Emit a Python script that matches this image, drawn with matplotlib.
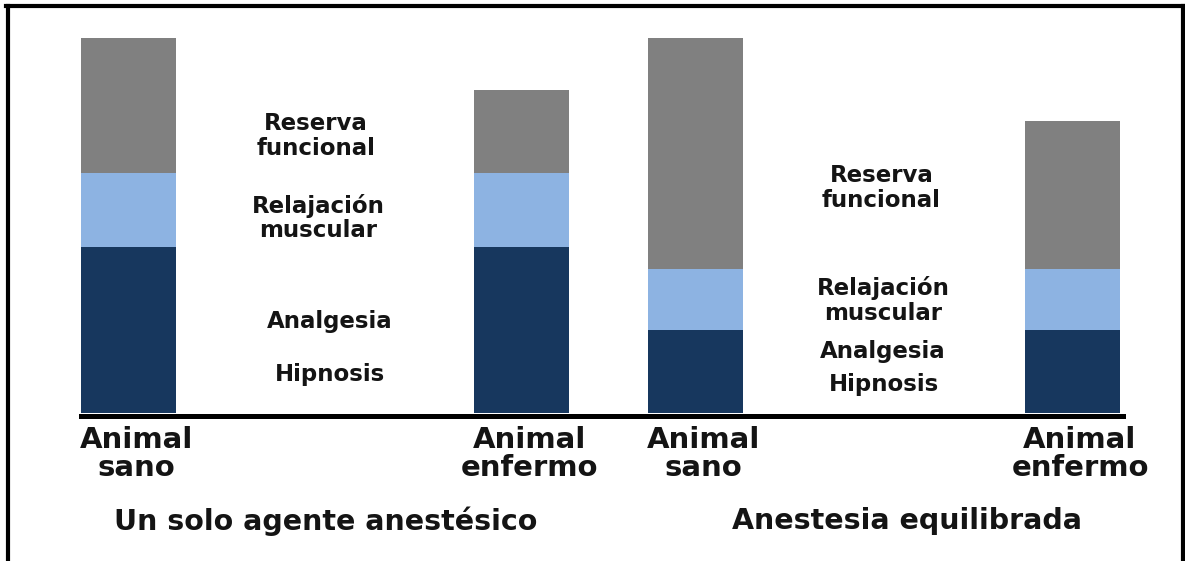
import matplotlib
matplotlib.use('Agg')
import matplotlib.pyplot as plt
from matplotlib.lines import Line2D

# datos (altura relativa, 100 = barra más alta)
categorias = ['Animal\nsano', 'Animal\nenfermo', 'Animal\nsano', 'Animal\nenfermo']
hipnosis_analgesia = [44.3, 44.3, 22.1, 22.1]
relajacion = [19.7, 19.7, 16.3, 16.3]
reserva = [36.0, 22.1, 61.6, 39.5]
grupos = ['Un solo agente anestésico', 'Anestesia equilibrada']

posiciones = [0, 3.93, 5.67, 9.435]
ancho = 0.95

c_osc = '#17375E'
c_cla = '#8DB3E2'
c_gris = '#808080'
c_txt = '#141414'

plt.rcParams['font.family'] = ['DejaVu Sans']

fig = plt.figure(figsize=(11.85, 5.61), dpi=100)
ax = fig.add_axes([81 / 1185, 148 / 561, 1041.5 / 1185, 375 / 561])

base2 = [a + b for a, b in zip(hipnosis_analgesia, relajacion)]
ax.bar(posiciones, hipnosis_analgesia, ancho, color=c_osc, zorder=2)
ax.bar(posiciones, relajacion, ancho, bottom=hipnosis_analgesia, color=c_cla, zorder=2)
ax.bar(posiciones, reserva, ancho, bottom=base2, color=c_gris, zorder=2)

ax.set_xlim(-0.475, 9.94)
ax.set_ylim(0, 100)
for s in ['top', 'right', 'left']:
    ax.spines[s].set_visible(False)
ax.spines['bottom'].set_linewidth(3.6)
ax.spines['bottom'].set_position(('outward', 1.8))
ax.spines['bottom'].set_zorder(3)
ax.set_xticks([])
ax.set_yticks([])

# etiquetas de las capas
etiquetas = [
    ('Reserva\nfuncional', 1.875, 73.9),
    ('Relajación\nmuscular', 1.895, 52.0),
    ('Analgesia', 2.015, 24.3),
    ('Hipnosis', 2.015, 10.4),
    ('Reserva\nfuncional', 7.53, 60.0),
    ('Relajación\nmuscular', 7.55, 30.1),
    ('Analgesia', 7.54, 16.3),
    ('Hipnosis', 7.55, 7.7),
]
for txt, x, y in etiquetas:
    ax.text(x, y, txt, ha='center', va='center', fontsize=16.5,
            fontweight='bold', color=c_txt, linespacing=1.1)

# categorías
for p, cat in zip(posiciones, categorias):
    ax.text(p + 0.08, -11.0, cat, ha='center', va='center', fontsize=21,
            fontweight='bold', color=c_txt, linespacing=1.0, clip_on=False)

ax.text(1.975, -28.8, grupos[0], ha='center', va='center', fontsize=20.5,
        fontweight='bold', color=c_txt, clip_on=False)
ax.text(7.78, -28.8, grupos[1], ha='center', va='center', fontsize=20.5,
        fontweight='bold', color=c_txt, clip_on=False)

# marco
yt = 1 - 5.5 / 561
fig.add_artist(Line2D([8 / 1185, 8 / 1185], [0, yt], color='black', lw=3, transform=fig.transFigure))
fig.add_artist(Line2D([6 / 1185, 1185 / 1185], [yt, yt], color='black', lw=3, transform=fig.transFigure))
fig.add_artist(Line2D([1183 / 1185, 1183 / 1185], [0, yt], color='black', lw=3, transform=fig.transFigure))

plt.savefig('out.png', dpi=100)
